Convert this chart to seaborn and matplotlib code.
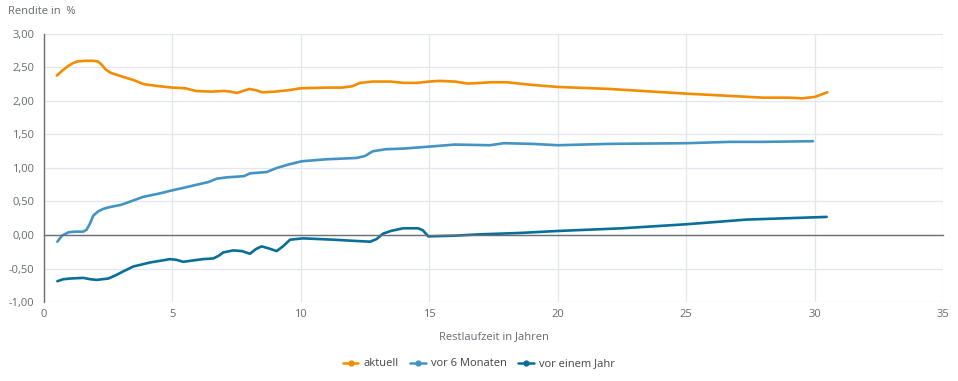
"""Zinsstrukturkurve: Rendite nach Restlaufzeit, aktuell vs. vor 6 Monaten vs. vor einem Jahr."""
import matplotlib
matplotlib.use("Agg")
import matplotlib.pyplot as plt
import matplotlib.ticker as mticker
import pandas as pd
import seaborn as sns

# values
years_now = [0.5, 0.7, 0.9, 1.1, 1.3, 1.6, 1.9, 2.1, 2.25, 2.4, 2.6, 3.0, 3.5, 3.9, 4.5, 5.0,
             5.5, 5.9, 6.5, 7.0, 7.25, 7.5, 7.75, 8.0, 8.25, 8.5, 9.0, 9.5, 10.0, 11.0, 11.6,
             12.0, 12.3, 12.8, 13.5, 14.0, 14.5, 15.0, 15.4, 16.0, 16.5, 17.0, 17.4, 18.0,
             19.0, 20.0, 22.0, 25.0, 27.0, 28.0, 29.0, 29.5, 30.0, 30.5]
rendite_now = [2.38, 2.45, 2.51, 2.56, 2.59, 2.60, 2.60, 2.59, 2.54, 2.47, 2.42, 2.37, 2.31,
               2.25, 2.22, 2.20, 2.19, 2.15, 2.14, 2.15, 2.14, 2.12, 2.15, 2.18, 2.16, 2.13,
               2.14, 2.16, 2.19, 2.20, 2.20, 2.22, 2.27, 2.29, 2.29, 2.27, 2.27, 2.29, 2.30,
               2.29, 2.26, 2.27, 2.28, 2.28, 2.24, 2.21, 2.18, 2.11, 2.07, 2.05, 2.05, 2.04,
               2.06, 2.13]

years_6m = [0.52, 0.7, 0.95, 1.2, 1.53, 1.66, 1.8, 1.92, 2.1, 2.31, 2.6, 3.0, 3.87, 4.5,
            5.03, 5.5, 5.94, 6.4, 6.72, 7.1, 7.5, 7.8, 8.02, 8.67, 9.06, 9.5, 10.03, 11.0,
            12.17, 12.5, 12.8, 13.3, 14.0, 15.03, 16.0, 17.36, 17.9, 19.0, 20.0, 22.0, 25.0,
            26.7, 28.0, 29.94]
rendite_6m = [-0.10, -0.01, 0.04, 0.05, 0.05, 0.08, 0.18, 0.29, 0.35, 0.39, 0.42, 0.45, 0.57,
              0.62, 0.67, 0.71, 0.75, 0.79, 0.84, 0.86, 0.87, 0.88, 0.92, 0.94, 1.00, 1.05,
              1.10, 1.13, 1.15, 1.18, 1.25, 1.28, 1.29, 1.32, 1.35, 1.34, 1.37, 1.36, 1.34,
              1.36, 1.37, 1.39, 1.39, 1.40]

years_1y = [0.52, 0.75, 1.01, 1.53, 1.8, 2.05, 2.5, 2.8, 3.1, 3.48, 4.13, 4.6, 4.9, 5.15,
            5.42, 5.8, 6.2, 6.59, 6.8, 6.98, 7.37, 7.7, 8.02, 8.25, 8.47, 8.75, 9.06, 9.3,
            9.58, 10.09, 11.26, 12.2, 12.7, 12.95, 13.2, 13.5, 13.98, 14.57, 14.75, 14.96,
            16.0, 16.97, 18.5, 20.0, 22.5, 25.0, 27.35, 30.47]
rendite_1y = [-0.69, -0.66, -0.65, -0.64, -0.66, -0.67, -0.65, -0.60, -0.54, -0.47, -0.41,
              -0.38, -0.36, -0.37, -0.40, -0.38, -0.36, -0.35, -0.31, -0.26, -0.23, -0.24,
              -0.28, -0.21, -0.17, -0.20, -0.24, -0.17, -0.07, -0.05, -0.07, -0.09, -0.10,
              -0.06, 0.02, 0.06, 0.10, 0.10, 0.07, -0.02, -0.01, 0.01, 0.03, 0.06, 0.10, 0.16,
              0.23, 0.27]

series_names = ["aktuell", "vor 6 Monaten", "vor einem Jahr"]
series_colors = ["#f28c00", "#4394c4", "#0a6f98"]

x_ticks = [0, 5, 10, 15, 20, 25, 30, 35]
y_ticks = [-1.0, -0.5, 0.0, 0.5, 1.0, 1.5, 2.0, 2.5, 3.0]

df = pd.concat(
    [
        pd.DataFrame({"laufzeit": years_now, "rendite": rendite_now, "serie": series_names[0]}),
        pd.DataFrame({"laufzeit": years_6m, "rendite": rendite_6m, "serie": series_names[1]}),
        pd.DataFrame({"laufzeit": years_1y, "rendite": rendite_1y, "serie": series_names[2]}),
    ],
    ignore_index=True,
)

sns.set_theme(style="white")
plt.rcParams["font.family"] = ["Open Sans", "DejaVu Sans"]

text_grey = "#666a70"
grid_grey = "#e2e6ee"
axis_grey = "#6b6e75"

fig = plt.figure(figsize=(9.58, 3.81), dpi=100)
ax = fig.add_axes([44 / 958, 1 - 302 / 381, 899 / 958, 268 / 381])

sns.lineplot(
    data=df, x="laufzeit", y="rendite", hue="serie", hue_order=series_names,
    palette=series_colors, linewidth=1.9, ax=ax, legend=False, sort=True,
)
for line in ax.lines:
    line.set_solid_joinstyle("round")
    line.set_solid_capstyle("round")

ax.set_xlim(0, 35)
ax.set_ylim(-1.0, 3.0)
ax.set_xticks(x_ticks)
ax.set_yticks(y_ticks)
ax.yaxis.set_major_formatter(mticker.FuncFormatter(lambda v, _: f"{v:.2f}".replace(".", ",")))
ax.grid(True, color=grid_grey, linewidth=0.9)
ax.set_axisbelow(True)

for side in ["top", "right"]:
    ax.spines[side].set_visible(False)
ax.spines["left"].set_color(axis_grey)
ax.spines["left"].set_linewidth(1.0)
ax.spines["bottom"].set_position(("data", 0))
ax.spines["bottom"].set_color(axis_grey)
ax.spines["bottom"].set_linewidth(1.0)
ax.tick_params(axis="x", direction="out", length=4, color=axis_grey, labelbottom=False)
ax.tick_params(axis="y", direction="out", length=4, color=axis_grey, labelcolor=text_grey,
               labelsize=8, pad=3)

sec = ax.secondary_xaxis(location=0)
sec.set_xticks(x_ticks)
sec.spines["bottom"].set_visible(False)
sec.tick_params(length=0, labelcolor=text_grey, labelsize=8, pad=5)
sec.set_xlabel("Restlaufzeit in Jahren", color=text_grey, fontsize=8, labelpad=8)
ax.set_xlabel("")
ax.set_ylabel("")

fig.text(8 / 958, 1 - 12 / 381, "Rendite in  %", color=text_grey, fontsize=8, va="center")

handles = [
    plt.Line2D([], [], color=c, marker="o", markersize=3.5, linewidth=1.8)
    for c in series_colors
]
fig.legend(handles, series_names, loc="center", bbox_to_anchor=(0.5, 1 - 364 / 381), ncol=3,
           frameon=False, fontsize=8, labelcolor="#444444", handlelength=1.4,
           handletextpad=0.5, columnspacing=1.0)

fig.savefig("out.png", dpi=100)
